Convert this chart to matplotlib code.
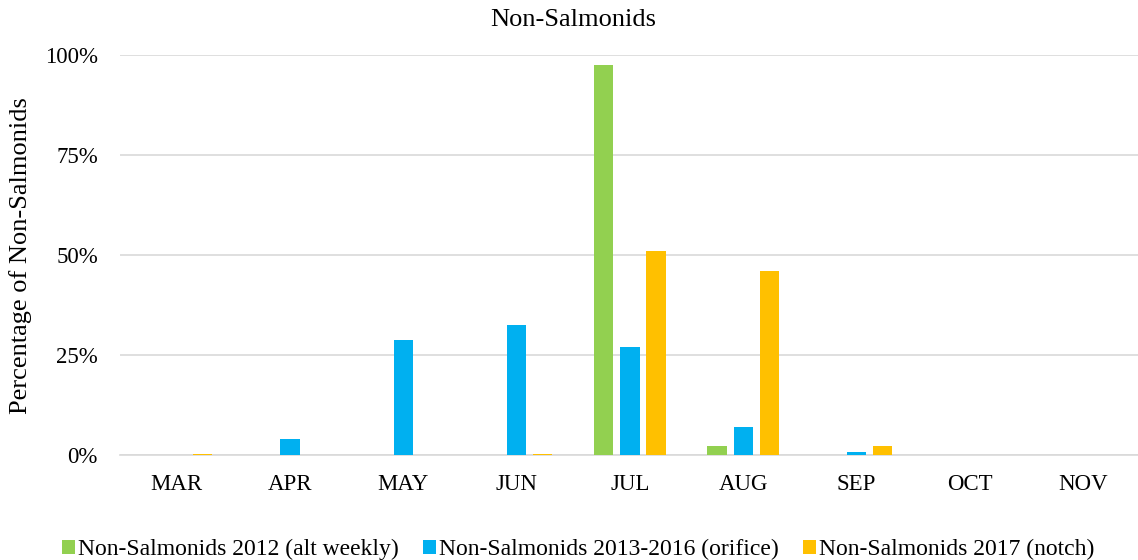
import matplotlib
matplotlib.use('Agg')
import matplotlib.pyplot as plt
import numpy as np

plt.rcParams['font.family'] = ['Liberation Serif', 'DejaVu Serif']

months = ['MAR', 'APR', 'MAY', 'JUN', 'JUL', 'AUG', 'SEP', 'OCT', 'NOV']
pct_2012 = [0, 0, 0, 0, 97.5, 2.2, 0, 0, 0]
pct_2013_2016 = [0, 4.0, 28.7, 32.4, 27.0, 7.0, 0.7, 0, 0]
pct_2017 = [0.3, 0, 0, 0.3, 50.9, 46.0, 2.2, 0, 0]

series = [
    ('Non-Salmonids 2012 (alt weekly)', pct_2012, '#92d050'),
    ('Non-Salmonids 2013-2016 (orifice)', pct_2013_2016, '#00b0f0'),
    ('Non-Salmonids 2017 (notch)', pct_2017, '#ffc000'),
]

fig = plt.figure(figsize=(11.38, 5.6), dpi=100)
ax = fig.add_axes([0.1055, 0.1875, 0.896, 0.714])

x = np.arange(len(months))
width = 0.17
step = 0.23
for i, (label, vals, color) in enumerate(series):
    ax.bar(x + (i - 1) * step, vals, width, color=color, label=label, zorder=3)

ax.set_xlim(-0.5, len(months) - 0.5)
ax.set_ylim(0, 100)
ax.set_yticks([0, 25, 50, 75, 100])
ax.set_yticklabels([f'{v}%' for v in [0, 25, 50, 75, 100]])
ax.set_xticks(x)
ax.set_xticklabels(months)
ax.tick_params(axis='both', length=0, labelsize=16.5, colors='#000000')
ax.tick_params(axis='x', pad=14)
ax.tick_params(axis='y', pad=16)
ax.grid(axis='y', color='#d9d9d9', linewidth=1.2, zorder=0)
for side in ['top', 'right', 'left']:
    ax.spines[side].set_visible(False)
ax.spines['bottom'].set_color('#d9d9d9')
ax.spines['bottom'].set_linewidth(1.2)

ax.set_ylabel('Percentage of Non-Salmonids', fontsize=19, labelpad=9)
fig.text(0.504, 0.964, 'Non-Salmonids', fontsize=19, ha='center', va='center')

fig.legend(loc='lower center', bbox_to_anchor=(0.508, -0.038), ncol=3,
           frameon=False, fontsize=17, handlelength=0.55, handleheight=0.55,
           handletextpad=0.15, columnspacing=1.0)

fig.savefig('out.png', dpi=100, facecolor='white')
plt.close(fig)
